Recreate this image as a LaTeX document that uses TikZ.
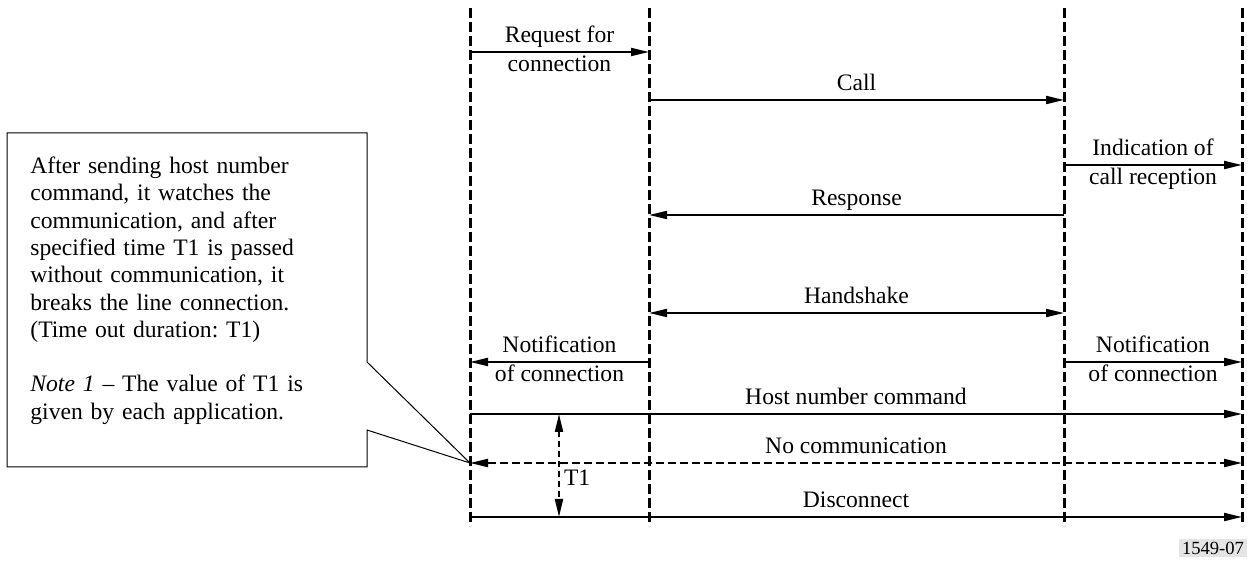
\documentclass[tikz,border=0pt]{standalone}
\usepackage{fontspec}
\setmainfont{Liberation Serif}
\usetikzlibrary{arrows.meta,positioning,calc}
\frenchspacing

\begin{document}
\begin{tikzpicture}[x=0.5pt, y=-0.5pt,
    every node/.style={font=\fontsize{11.8}{13.65}\selectfont},
    lifeline/.style={line width=1.5pt, dash pattern=on 5pt off 2pt},
    msg/.style={line width=1pt, -{Triangle[length=9pt,width=4pt]}},
    msgboth/.style={line width=1pt, {Triangle[length=9pt,width=4pt]}-{Triangle[length=9pt,width=4pt]}},
    lbl/.style={inner sep=1.5pt, text height=8pt, text depth=2.5pt}]
  \useasboundingbox (0,0) rectangle (1249,561);
  % Define lifeline positions
  \def\xA{470}
  \def\xB{649}
  \def\xC{1064}
  \def\xD{1242}
  % Draw lifelines
  \foreach \x in {\xA,\xB,\xC,\xD}
      \draw[lifeline] (\x,8) -- (\x,526);

  % Define points on lifelines for each message
  \foreach \name/\y in {req/52, call/100, ind/165, resp/215, hand/313,
                        notif/362, host/414, nocom/463, disc/517} {%
      \coordinate (A-\name) at (\xA,\y);
      \coordinate (B-\name) at (\xB,\y);
      \coordinate (C-\name) at (\xC,\y);
      \coordinate (D-\name) at (\xD,\y);
  }

  % Messages
  \draw[msg] (A-req) -- (B-req)
      node[lbl, midway, above] {Request for} node[lbl, midway, below] {connection};
  \draw[msg] (B-call) -- (C-call) node[lbl, midway, above] {Call};
  \draw[msg] (C-ind) -- (D-ind)
      node[lbl, midway, above] {Indication of} node[lbl, midway, below] {call reception};
  \draw[msg] (C-resp) -- (B-resp) node[lbl, midway, above] {Response};
  \draw[msgboth] (B-hand) -- (C-hand) node[lbl, midway, above] {Handshake};
  \draw[msg] (B-notif) -- (A-notif)
      node[lbl, midway, above] {Notification} node[lbl, midway, below] {of connection};
  \draw[msg] (C-notif) -- (D-notif)
      node[lbl, midway, above] {Notification} node[lbl, midway, below] {of connection};
  \draw[msg] (A-host) -- (D-host) node[lbl, midway, above] {Host number command};
  \draw[msgboth, dash pattern=on 4pt off 2pt] (A-nocom) -- (D-nocom)
      node[lbl, midway, above] {No communication};
  \draw[msg] (A-disc) -- (D-disc) node[lbl, midway, above] {Disconnect};

  % Time out T1
  \coordinate (T1top) at (559,414);
  \coordinate (T1bot) at (559,517);
  \draw[msgboth, dash pattern=on 3pt off 2pt] (T1top) -- (T1bot)
      node[pos=0.62, right, inner sep=2pt] (T1) {T1};

  % Callout
  \draw[line width=0.5pt] (7,133) -- (367,133) -- (367,362) -- (A-nocom)
      -- (367,430) -- (367,467) -- (7,467) -- cycle;
  \node[anchor=north west, inner sep=0pt, text width=165pt, align=left] (note) at (30,156.5)
      {After sending host number\\
       command, it watches the\\
       communication, and after\\
       specified time T1 is passed\\
       without communication, it\\
       breaks the line connection.\\
       (Time out duration: T1)\\[13.65pt]
       \textit{Note 1} -- The value of T1 is\\
       given by each application.};

  \node[fill=gray!20, inner sep=1.5pt, font=\fontsize{9.3}{11}\selectfont] (fig) at (1213,548) {1549-07};
\end{tikzpicture}
\end{document}
